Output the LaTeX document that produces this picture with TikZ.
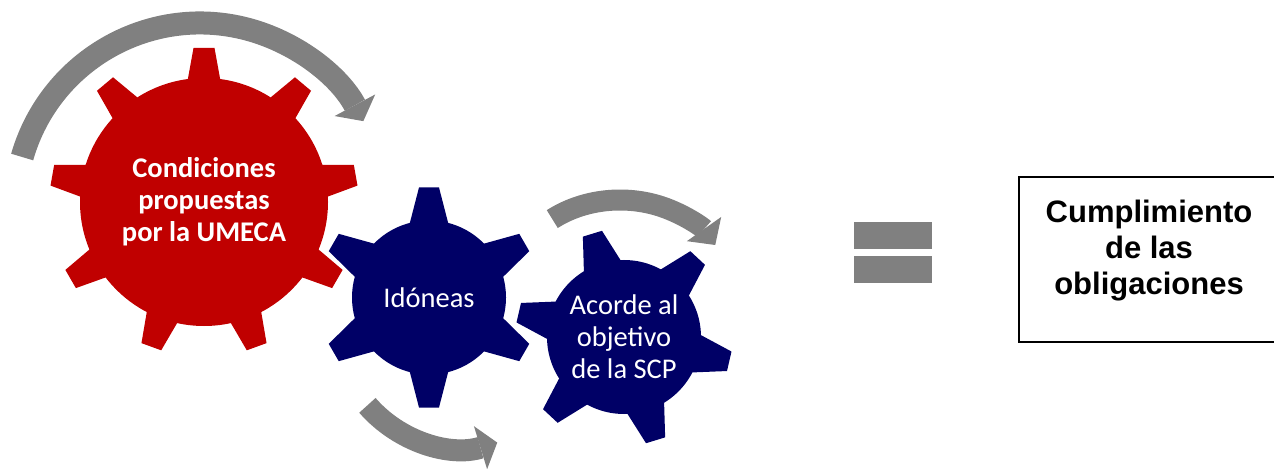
\documentclass[tikz,border=0pt]{standalone}
\usepackage{fontspec}
\setmainfont{Carlito}
\newfontfamily\boxfont{Liberation Sans}
\usepackage{xcolor}
\usepackage{tikz}
\usetikzlibrary{arrows.meta}

\definecolor{umecared}{HTML}{C00000}
\definecolor{gearblue}{HTML}{000066}
\definecolor{turngray}{HTML}{808080}

\begin{document}
\begin{tikzpicture}[
    x=1pt, y=1pt,
    gear/.style={circle, inner sep=0pt, align=center, text=white},
    redgear/.style={gear, fill=umecared, minimum size=248pt, font=\bfseries\fontsize{28.5}{32}\selectfont},
    bluegear/.style={gear, fill=gearblue, minimum size=154pt, font=\fontsize{28.5}{32}\selectfont},
    turn/.style={draw=turngray, line width=22pt},
    resultbox/.style={rectangle, draw=black, line width=2pt, minimum width=260pt, minimum height=165pt, align=center, font=\boxfont\bfseries\fontsize{31}{36}\selectfont}
]
\useasboundingbox (0,0) rectangle (1274,469);

% Gears
\node[redgear] (umeca) at (204,267) {Condiciones\\propuestas\\por la UMECA};
\foreach \a in {10,50,...,330}
    \fill[umecared, shift={(umeca.center)}, rotate=\a] (121,-16.5) -- (154,-10.5) -- (154,10.5) -- (121,16.5) -- cycle;

\node[bluegear] (idoneas) at (429,171.5) {Id\'oneas};
\foreach \a in {30,90,...,330}
    \fill[gearblue, shift={(idoneas.center)}, rotate=\a] (74,-19.3) -- (110,-10) -- (110,10) -- (74,19.3) -- cycle;

\node[bluegear] (acorde) at (624,132) {Acorde al\\objetivo\\de la SCP};
\foreach \a in {47,107,...,347}
    \fill[gearblue, shift={(acorde.center)}, rotate=\a] (74,-19.3) -- (108,-10) -- (108,10) -- (74,19.3) -- cycle;

% Turning arrows
\coordinate (turnA) at (200,261);
\coordinate (turnB) at (461,145);
\coordinate (turnC) at (620,179);
\draw[turn, line width=23pt, -{Triangle[length=18pt, width=46pt, line width=0pt]}]
    ([shift={(164:185)}]turnA) arc[start angle=164, end angle=28, radius=185];
\draw[turn, -{Triangle[length=17.5pt, width=45pt, line width=0pt]}]
    ([shift={(221:124)}]turnB) arc[start angle=221, end angle=287, radius=124];
\draw[turn, line width=21pt, -{Triangle[length=19.5pt, width=42pt, line width=0pt]}]
    ([shift={(128:110 and 90)}]turnC) arc[start angle=128, end angle=30, x radius=110, y radius=90];

% Equals sign
\fill[turngray] (854,220) rectangle (932,247);
\fill[turngray] (854,186) rectangle (932,213);

% Result
\node[resultbox, text depth=24pt] (result) at (1149,209.5) {Cumplimiento\\de las\\obligaciones};

\end{tikzpicture}
\end{document}
